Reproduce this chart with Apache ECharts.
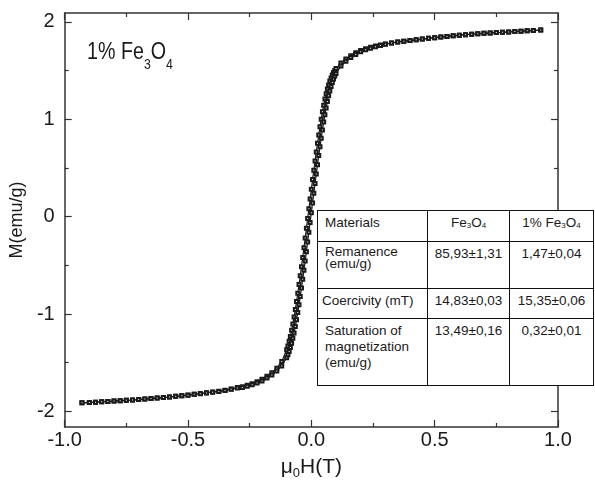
<!DOCTYPE html>
<html>
<head>
<meta charset="utf-8">
<script src="https://cdn.jsdelivr.net/npm/echarts@6/dist/echarts.min.js"></script>
<style>
  body { margin: 0; background: #fff; }
  #wrap { position: relative; width: 595px; height: 485px; }
  #chart { width: 595px; height: 485px; }
  #props {
    position: absolute; left: 317px; top: 210px; width: 276px; height: 175px;
    border-collapse: collapse; table-layout: fixed; background: #fff;
    font-family: "Liberation Sans", Arial, sans-serif; font-size: 13.5px; color: #1a1a1a;
  }
  #props td { border: 1.5px solid #111; vertical-align: top; padding: 4px 5px 0 7px; line-height: 16px; }
  #props td.c { text-align: center; padding-left: 2px; padding-right: 2px; }
  #props tr.r2 td { line-height: 12px; }
  #props sub { font-size: 8px; vertical-align: -1px; }
</style>
</head>
<body>
<div id="wrap">
  <div id="chart"></div>
  <table id="props">
    <colgroup><col style="width:110px"><col style="width:82px"><col style="width:84px"></colgroup>
    <tr style="height:31px"><td>Materials</td><td class="c">Fe<sub>3</sub>O<sub>4</sub></td><td class="c">1% Fe<sub>3</sub>O<sub>4</sub></td></tr>
    <tr class="r2" style="height:47px"><td>Remanence<br>(emu/g)</td><td class="c" style="line-height:16px">85,93±1,31</td><td class="c" style="line-height:16px">1,47±0,04</td></tr>
    <tr style="height:30px"><td style="padding-left:4px;padding-right:0">Coercivity (mT)</td><td class="c">14,83±0,03</td><td class="c">15,35±0,06</td></tr>
    <tr style="height:67px"><td>Saturation of<br>magnetization<br>(emu/g)</td><td class="c">13,49±0,16</td><td class="c">0,32±0,01</td></tr>
  </table>
</div>
<script>
// applied field (T), shared by both branches of the loop
var fieldT = [-0.93, -0.9, -0.875, -0.85, -0.825, -0.8, -0.775, -0.75, -0.725, -0.7, -0.675, -0.65, -0.625,
  -0.6, -0.575, -0.55, -0.525, -0.5, -0.475, -0.45, -0.425, -0.4, -0.375, -0.35, -0.325, -0.3,
  -0.28, -0.26, -0.24, -0.22, -0.2, -0.18, -0.16, -0.14, -0.12,
  -0.1, -0.095, -0.09, -0.085, -0.08, -0.075, -0.07, -0.065, -0.06, -0.055, -0.05, -0.045, -0.04, -0.035,
  -0.03, -0.025, -0.02, -0.015, -0.01, -0.005, 0, 0.005, 0.01, 0.015, 0.02, 0.025, 0.03, 0.035, 0.04,
  0.045, 0.05, 0.055, 0.06, 0.065, 0.07, 0.075, 0.08, 0.085, 0.09, 0.095, 0.1,
  0.12, 0.14, 0.16, 0.18, 0.2, 0.22, 0.24, 0.26, 0.28,
  0.3, 0.325, 0.35, 0.375, 0.4, 0.425, 0.45, 0.475, 0.5, 0.525, 0.55, 0.575, 0.6, 0.625, 0.65, 0.675,
  0.7, 0.725, 0.75, 0.775, 0.8, 0.825, 0.85, 0.875, 0.9, 0.93];

// magnetization (emu/g), branch swept down from +H
var magDescending = [-1.912, -1.908, -1.905, -1.901, -1.897, -1.894, -1.890, -1.886, -1.883, -1.878, -1.873, -1.868, -1.863,
  -1.858, -1.852, -1.845, -1.839, -1.832, -1.824, -1.816, -1.808, -1.800, -1.792, -1.782, -1.769, -1.755,
  -1.746, -1.732, -1.715, -1.696, -1.669, -1.639, -1.602, -1.556, -1.487,
  -1.368, -1.328, -1.28, -1.23, -1.168, -1.103, -1.03, -0.955, -0.872, -0.787, -0.698, -0.608, -0.514, -0.419,
  -0.32, -0.22, -0.12, -0.02, 0.08, 0.18, 0.28, 0.38, 0.476, 0.571, 0.662, 0.752, 0.838, 0.923, 1.00,
  1.075, 1.142, 1.207, 1.26, 1.31, 1.352, 1.392, 1.424, 1.454, 1.478, 1.50, 1.519,
  1.576, 1.618, 1.651, 1.681, 1.704, 1.722, 1.738, 1.751, 1.762,
  1.772, 1.783, 1.793, 1.801, 1.808, 1.815, 1.822, 1.830, 1.837, 1.843, 1.850, 1.856, 1.862, 1.867, 1.872, 1.877,
  1.881, 1.885, 1.889, 1.892, 1.896, 1.900, 1.903, 1.907, 1.910, 1.915];

// magnetization (emu/g), branch swept up from -H
var magAscending = [-1.912, -1.908, -1.905, -1.901, -1.897, -1.894, -1.890, -1.886, -1.883, -1.878, -1.873, -1.868, -1.863,
  -1.858, -1.852, -1.845, -1.839, -1.833, -1.825, -1.818, -1.810, -1.803, -1.795, -1.786, -1.773, -1.760,
  -1.754, -1.741, -1.725, -1.708, -1.687, -1.657, -1.626, -1.585, -1.533,
  -1.448, -1.418, -1.384, -1.344, -1.30, -1.25, -1.194, -1.129, -1.06, -0.985, -0.906, -0.821, -0.734, -0.644,
  -0.552, -0.457, -0.36, -0.26, -0.16, -0.06, 0.04, 0.14, 0.24, 0.34, 0.438, 0.533, 0.626, 0.716, 0.804,
  0.889, 0.97, 1.045, 1.116, 1.181, 1.24, 1.29, 1.336, 1.376, 1.412, 1.442, 1.469,
  1.545, 1.594, 1.633, 1.663, 1.692, 1.712, 1.728, 1.743, 1.756,
  1.769, 1.781, 1.792, 1.800, 1.807, 1.815, 1.822, 1.830, 1.837, 1.843, 1.850, 1.856, 1.862, 1.867, 1.872, 1.877,
  1.881, 1.885, 1.889, 1.892, 1.896, 1.900, 1.903, 1.907, 1.910, 1.915];

var yMajorTicks = [-2, -1, 0, 1, 2];
var yMinorTicks = [-1.5, -0.5, 0.5, 1.5];

function pairs(ys) {
  return fieldT.map(function (h, i) { return [h, ys[i]]; });
}

var axisColor = "#333";
var font = "Liberation Sans";

function xAxisFor(pos, labels) {
  return {
    type: "value", position: pos, min: -1, max: 1, interval: 0.5,
    axisLine: { show: true, onZero: false, lineStyle: { color: axisColor, width: 1.5 } },
    axisTick: { show: true, inside: true, length: 7, lineStyle: { color: axisColor, width: 1.2 } },
    minorTick: { show: true, splitNumber: 2, length: 4, lineStyle: { color: axisColor, width: 1.2 } },
    splitLine: { show: false },
    axisLabel: {
      show: labels, margin: 3, fontFamily: font, fontSize: 20, color: "#1a1a1a",
      formatter: function (v) { return v.toFixed(1); }
    }
  };
}

function yAxisFor(pos, ticks, len, labels, line) {
  return {
    type: "value", position: pos, min: -2.16, max: 2.09,
    axisLine: { show: line, onZero: false, lineStyle: { color: axisColor, width: 1.5 } },
    axisTick: { show: true, inside: true, length: len, customValues: ticks, lineStyle: { color: axisColor, width: 1.2 } },
    splitLine: { show: false },
    axisLabel: { show: labels, customValues: ticks, margin: 10, fontFamily: font, fontSize: 20, color: "#1a1a1a" }
  };
}

var chart = echarts.init(document.getElementById("chart"));

var xBottom = xAxisFor("bottom", true);
xBottom.name = "{a|μ}{s|0}{a|H(T)}";
xBottom.nameLocation = "middle";
xBottom.nameGap = 30;
xBottom.nameTextStyle = {
  rich: {
    a: { fontFamily: font, fontSize: 21, lineHeight: 23, verticalAlign: "top", color: "#1a1a1a" },
    s: { fontFamily: font, fontSize: 13, lineHeight: 23, verticalAlign: "bottom", color: "#1a1a1a" }
  }
};

var yLeft = yAxisFor("left", yMajorTicks, 7, true, true);
yLeft.name = "M(emu/g)";
yLeft.nameLocation = "middle";
yLeft.nameGap = 14;
yLeft.nameTextStyle = { fontFamily: font, fontSize: 18, color: "#1a1a1a" };

chart.setOption({
  animation: false,
  backgroundColor: "#fff",
  grid: { left: 61, right: 37, top: 13, bottom: 58, containLabel: false },
  xAxis: [xBottom, xAxisFor("top", false)],
  yAxis: [
    yLeft,
    yAxisFor("left", yMinorTicks, 4, false, false),
    yAxisFor("right", yMajorTicks, 7, false, true),
    yAxisFor("right", yMinorTicks, 4, false, false)
  ],
  graphic: [{
    type: "text", left: 87, top: 40, scaleX: 0.82,
    style: {
      text: "{a|1% Fe}{s|3}{a|O}{s|4}",
      rich: {
        a: { fontFamily: font, fontSize: 24, lineHeight: 32, verticalAlign: "top", fill: "#1a1a1a" },
        s: { fontFamily: font, fontSize: 15, lineHeight: 32, verticalAlign: "bottom", fill: "#1a1a1a" }
      }
    }
  }],
  series: [
    {
      name: "descending", type: "line", data: pairs(magDescending),
      symbol: "emptyRect", symbolSize: 3, showAllSymbol: true,
      lineStyle: { color: "#1a1a1a", width: 1.2 },
      itemStyle: { color: "#1a1a1a", borderWidth: 1 }
    },
    {
      name: "ascending", type: "line", data: pairs(magAscending),
      symbol: "emptyRect", symbolSize: 3, showAllSymbol: true,
      lineStyle: { color: "#1a1a1a", width: 1.2 },
      itemStyle: { color: "#1a1a1a", borderWidth: 1 }
    }
  ]
});
</script>
</body>
</html>
